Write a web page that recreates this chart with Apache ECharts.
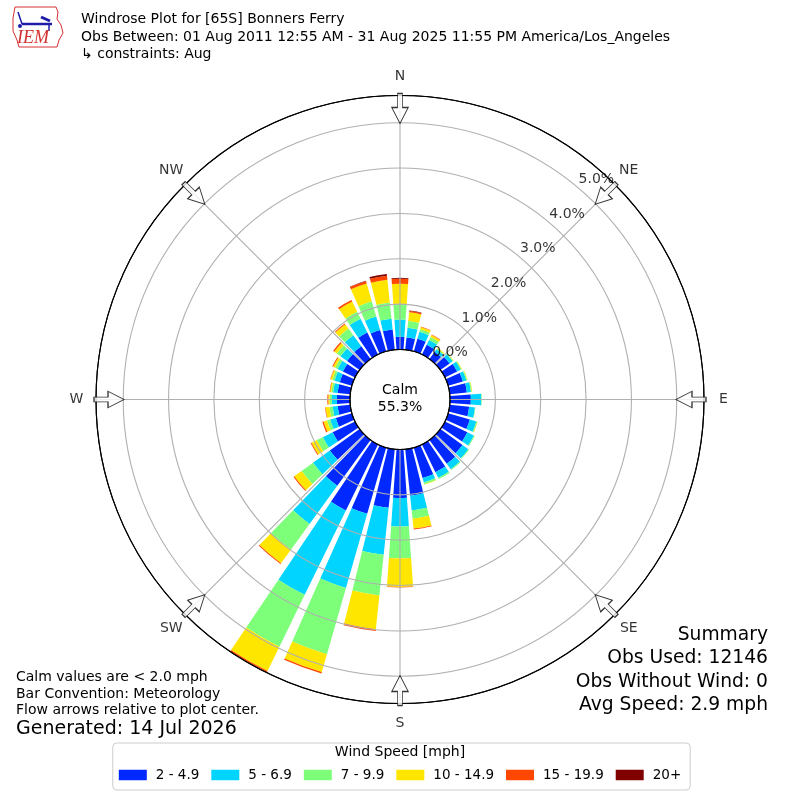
<!DOCTYPE html>
<html><head><meta charset="utf-8">
<script src="https://cdn.jsdelivr.net/npm/echarts@6/dist/echarts.min.js"></script>
<style>html,body{margin:0;padding:0;background:#fff}#c{width:800px;height:800px}</style>
</head><body><div id="c"></div>
<script>
// direction bins (degrees, meteorological, bin centres)
const directions = [0,10,20,30,40,50,60,70,80,90,100,110,120,130,140,150,160,170,180,190,200,210,220,230,240,250,260,270,280,290,300,310,320,330,340,350];
const speedBins = ['2 - 4.9','5 - 6.9','7 - 9.9','10 - 14.9','15 - 19.9','20+'];
const binColors = ['#0028ff','#00d4ff','#7dff7a','#ffe600','#ff4700','#800000'];
// percent frequency per direction for each speed bin
const spd2to5   = [0.28,0.27,0.29,0.24,0.20,0.25,0.30,0.34,0.38,0.46,0.43,0.50,0.55,0.60,0.65,0.68,0.70,1.03,1.07,1.30,1.52,1.62,1.25,0.81,0.55,0.37,0.28,0.29,0.28,0.28,0.30,0.34,0.35,0.54,0.49,0.45];
const spd5to7   = [0.38,0.22,0.16,0.12,0.07,0.08,0.09,0.08,0.09,0.23,0.13,0.15,0.16,0.16,0.15,0.14,0.10,0.33,0.63,1.04,1.70,2.07,1.04,0.46,0.24,0.13,0.11,0.11,0.10,0.12,0.13,0.18,0.30,0.34,0.31,0.24];
const spd7to10  = [0.35,0.15,0.06,0.07,0.02,0.02,0.02,0.02,0.02,0.01,0.01,0.02,0.02,0.02,0.02,0.03,0.04,0.18,0.70,0.90,1.52,1.27,0.70,0.31,0.15,0.07,0.07,0.05,0.04,0.05,0.06,0.10,0.18,0.17,0.35,0.36];
const spd10to15 = [0.44,0.19,0.05,0.05,0.02,0.01,0.01,0.01,0.01,0.00,0.00,0.01,0.00,0.00,0.00,0.00,0.01,0.22,0.63,0.75,0.41,0.60,0.37,0.20,0.13,0.08,0.09,0.03,0.03,0.04,0.05,0.07,0.12,0.25,0.41,0.50];
const spd15to20 = [0.11,0.03,0.01,0.01,0,0,0,0,0,0,0,0,0,0,0,0,0,0.02,0.01,0.04,0.03,0.03,0.02,0.02,0.02,0.03,0.01,0.02,0.01,0.01,0.02,0.03,0.02,0.04,0.05,0.09];
const spd20plus = [0.02,0.01,0,0,0,0,0,0,0,0,0,0,0,0,0,0,0,0,0,0,0,0,0,0,0,0,0,0,0,0,0,0,0,0,0.01,0.04];
const radiusTicks = [0,1,2,3,4,5];
const compass = ['N','NE','E','SE','S','SW','W','NW'];
const calmText = 'Calm\n55.3%';
const titleLines = ['Windrose Plot for [65S] Bonners Ferry','Obs Between: 01 Aug 2011 12:55 AM - 31 Aug 2025 11:55 PM America/Los_Angeles','\u21b3 constraints: Aug'];
const summaryLines = ['Summary','Obs Used: 12146','Obs Without Wind: 0','Avg Speed: 2.9 mph'];
const noteLines = ['Calm values are < 2.0 mph','Bar Convention: Meteorology','Flow arrows relative to plot center.'];
const generatedText = 'Generated: 14 Jul 2026';

const binData = [spd2to5, spd5to7, spd7to10, spd10to15, spd15to20, spd20plus];
const FONT = '"DejaVu Sans", sans-serif';
const RMAX = 5.6;
const center = [400, 399.5];
const radius = [50, 304];
const pxPerUnit = (radius[1]-radius[0])/RMAX;

const chart = echarts.init(document.getElementById('c'), null, {renderer:'canvas'});

const barSeries = speedBins.map((name, i) => ({
  name, type:'bar', coordinateSystem:'polar', polarIndex:0, stack:'w',
  barCategoryGap:'20%', z:2,
  itemStyle:{color:binColors[i]},
  data: binData[i]
}));

const arrowPx = 291;
const arrowR = (arrowPx - radius[0]) / pxPerUnit;
const labelPx = 323.5;

function txt(x, y, text, size, align, extra) {
  return Object.assign({
    type:'text', x, y, z:50, silent:true,
    style:{text, font: size + 'px ' + FONT, fill:'#000', textAlign:align, align:align, textVerticalAlign:'middle', verticalAlign:'middle'}
  }, extra || {});
}

const graphics = [];
titleLines.forEach((t,i)=>graphics.push(txt(81, [19,37,54.5][i], t, 14, 'left')));
summaryLines.forEach((t,i)=>graphics.push(txt(768, 635 + i*23.4, t, 18.7, 'right')));
noteLines.forEach((t,i)=>graphics.push(txt(16, 677.5 + i*16.5, t, 14, 'left')));
graphics.push(txt(16, 729, generatedText, 19, 'left'));
graphics.push({type:'text', x:400, y:399, z:50, silent:true,
  style:{text:calmText, font:'14px '+FONT, fill:'#000', textAlign:'center', align:'center', textVerticalAlign:'middle', verticalAlign:'middle', lineHeight:17}});
graphics.push(txt(400, 752, 'Wind Speed [mph]', 14, 'center', {z:60}));
// IEM logo (decorative)
graphics.push({type:'polyline', z:50, silent:true, shape:{points:[[15,7],[56,7],[58,12],[57,19],[61,25],[63,33],[59,40],[57,47],[19,47],[17,40],[13,31],[13,18],[15,7]]}, style:{stroke:'#d43030', lineWidth:1, fill:null}});
graphics.push({type:'line', z:51, silent:true, shape:{x1:22,y1:24,x2:52,y2:24}, style:{stroke:'#1c1ca8', lineWidth:2.5}});
graphics.push({type:'line', z:51, silent:true, shape:{x1:22,y1:24,x2:18,y2:12}, style:{stroke:'#1c1ca8', lineWidth:1.5}});
graphics.push({type:'line', z:51, silent:true, shape:{x1:41,y1:17,x2:50,y2:21}, style:{stroke:'#1c1ca8', lineWidth:3}});
graphics.push({type:'line', z:51, silent:true, shape:{x1:49,y1:24,x2:49,y2:31}, style:{stroke:'#1c1ca8', lineWidth:1.5}});
graphics.push({type:'circle', z:51, silent:true, shape:{cx:20,cy:26,r:2}, style:{fill:'#1c1ca8'}});
graphics.push({type:'text', x:17, y:38, z:51, silent:true, style:{text:'IEM', font:'italic 18px "Liberation Serif", serif', fill:'#d43030', textVerticalAlign:'middle', verticalAlign:'middle'}});

const option = {
  animation:false,
  backgroundColor:'#fff',
  polar:[
    {center, radius},
    {center, radius}
  ],
  angleAxis:[
    {polarIndex:0, type:'category', data:directions, startAngle:95, clockwise:true, boundaryGap:true,
     axisLine:{show:false}, axisTick:{show:false}, axisLabel:{show:false}, splitLine:{show:false}},
    {polarIndex:1, type:'value', min:0, max:360, interval:45, startAngle:90, clockwise:true, z:3,
     axisLine:{show:true, lineStyle:{color:'#000', width:1.1}}, axisTick:{show:false}, axisLabel:{show:false},
     splitLine:{show:true, lineStyle:{color:'#b0b0b0', width:1.1}}}
  ],
  radiusAxis:[
    {polarIndex:0, type:'value', min:0, max:RMAX, axisLine:{show:false}, axisTick:{show:false}, axisLabel:{show:false}, splitLine:{show:false}},
    {polarIndex:1, type:'value', min:0, max:RMAX, interval:1, z:3, axisLine:{show:false}, axisTick:{show:false}, axisLabel:{show:false},
     splitLine:{show:true, lineStyle:{color:['#000000','#b0b0b0','#b0b0b0','#b0b0b0','#b0b0b0','#b0b0b0','#000000'], width:1.1}}}
  ],
  legend:{
    data:speedBins, left:'center', top:743, orient:'horizontal',
    padding:[25,9,8,6], itemGap:12, itemWidth:28, itemHeight:10.5, icon:'rect',
    borderColor:'#cccccc', borderWidth:1, borderRadius:4, backgroundColor:'#fff',
    textStyle:{fontFamily:FONT, fontSize:13.5, color:'#000', padding:[0,0,0,4]},
    selectedMode:false
  },
  series:[
    ...barSeries,
    {type:'scatter', coordinateSystem:'polar', polarIndex:1, z:10, silent:true,
     symbol:'path://M6,0L11,0L11,14L17,14L8.5,30L0,14L6,14Z', symbolSize:[16.5,30], symbolKeepAspect:false,
     itemStyle:{color:'#fff', borderColor:'#000', borderWidth:1},
     data: compass.map((c,i)=>({value:[arrowR, i*45], symbolRotate:-i*45}))},
    {type:'scatter', coordinateSystem:'polar', polarIndex:1, z:10, silent:true,
     symbolSize:1, itemStyle:{color:'rgba(0,0,0,0)'},
     data: compass.map((c,i)=>{
       const a = i*45*Math.PI/180, d = labelPx - arrowPx;
       return {name:c, value:[arrowR, i*45],
         label:{show:true, position:'inside', formatter:c, offset:[d*Math.sin(a), -d*Math.cos(a)],
                fontFamily:FONT, fontSize:14, color:'#000', align:'center', verticalAlign:'middle'}};
     })},
    {type:'scatter', coordinateSystem:'polar', polarIndex:1, z:10, silent:true,
     symbolSize:1, itemStyle:{color:'rgba(0,0,0,0)'},
     label:{show:true, position:'inside', offset:[17.7,-8.8], formatter:(p)=>p.value[0].toFixed(1)+'%', fontFamily:FONT, fontSize:14, color:'#000', align:'center', verticalAlign:'middle'},
     data: radiusTicks.map(t=>({value:[t, 40.2]}))}
  ],
  graphic:{elements:graphics}
};
chart.setOption(option);
</script></body></html>
